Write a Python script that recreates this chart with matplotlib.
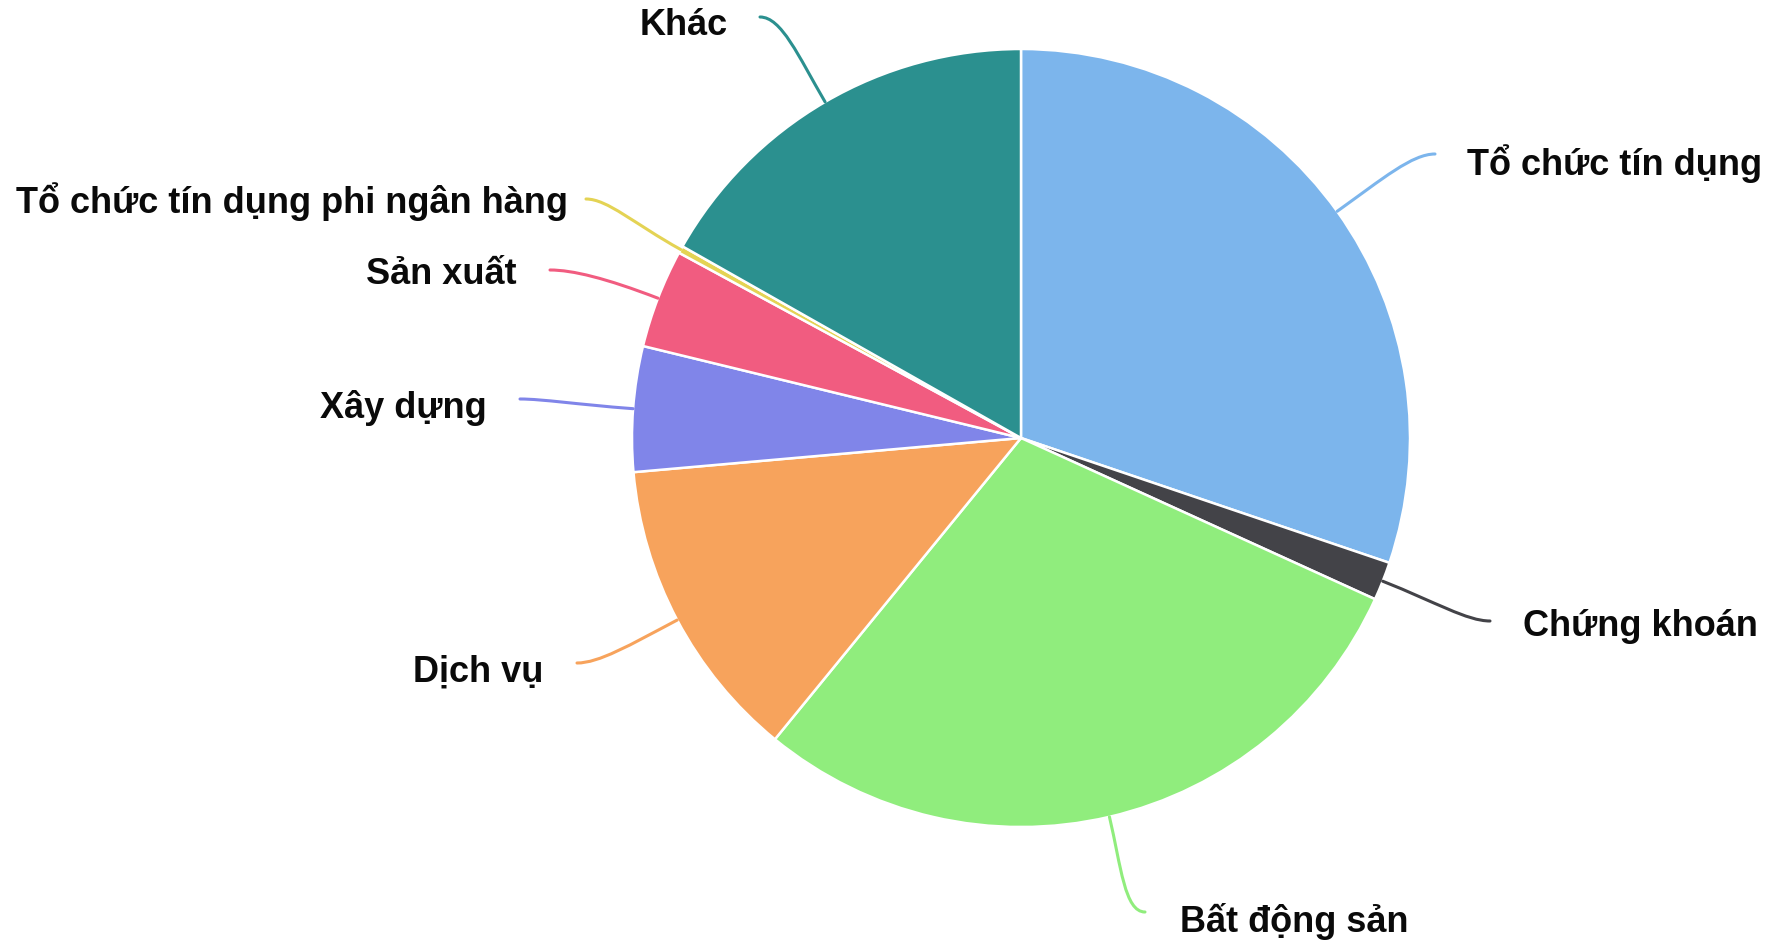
import numpy as np
import matplotlib
matplotlib.use("Agg")
import matplotlib.pyplot as plt
from matplotlib.path import Path
from matplotlib.patches import PathPatch

# ---- data ----
categories = ["Tổ chức tín dụng", "Chứng khoán", "Bất động sản", "Dịch vụ",
              "Xây dựng", "Sản xuất", "Tổ chức tín dụng phi ngân hàng", "Khác"]
shares = [30.2, 1.6, 29.1, 12.7, 5.2, 4.1, 0.3, 16.8]
colors = ["#7cb5ec", "#434348", "#90ed7d", "#f7a35c",
          "#8085e9", "#f15c80", "#e4d354", "#2b908f"]

# ---- layout (pixel coordinates, y measured from top) ----
W, H = 1783, 943
CX, CY, R = 1021, 438, 389
# label anchor: (connector end x, connector end y, text x, text y, ha)
label_layout = [
    (1435, 154, 1467, 164, "left"),
    (1490, 621, 1523, 627, "left"),
    (1145, 912, 1180, 921, "left"),
    (577, 663, 543, 672, "right"),
    (520, 399, 487, 408, "right"),
    (550, 270, 517, 275, "right"),
    (586, 199, 568, 202, "right"),
    (760, 17, 728, 25, "right"),
]

plt.rcParams["font.family"] = ["Liberation Sans", "DejaVu Sans"]

fig = plt.figure(figsize=(W / 100, H / 100), dpi=100)
ax = fig.add_axes([0, 0, 1, 1])

# y axis is inverted (pixel frame): angle -90 points up on screen and
# increasing angles run clockwise on screen.
wedges, _ = ax.pie(shares, colors=colors, startangle=-90, counterclock=True,
                   center=(CX, CY), radius=R,
                   wedgeprops=dict(edgecolor="white", linewidth=1.8))
ax.set_xlim(0, W)
ax.set_ylim(H, 0)
ax.set_aspect("equal")
ax.axis("off")

for w, col, lab, lay in zip(wedges, colors, categories, label_layout):
    mid = np.deg2rad((w.theta1 + w.theta2) / 2)
    ux, uy = np.cos(mid), np.sin(mid)
    p0 = (CX + R * ux, CY + R * uy)
    ex, ey, tx, ty, ha = lay
    d = np.hypot(ex - p0[0], ey - p0[1])
    p1 = (p0[0] + ux * d * 0.5, p0[1] + uy * d * 0.5)
    sgn = 1 if ha == "left" else -1
    p2 = (ex - sgn * d * 0.2, ey)
    path = Path([p0, p1, p2, (ex, ey)],
                [Path.MOVETO, Path.CURVE4, Path.CURVE4, Path.CURVE4])
    ax.add_patch(PathPatch(path, facecolor="none", edgecolor=col, lw=2.2,
                           capstyle="round"))
    ax.text(tx, ty, lab, ha=ha, va="center", fontsize=26, fontweight="bold",
            color="#0a0a0a")

fig.savefig("out.png", dpi=100, facecolor="white")
